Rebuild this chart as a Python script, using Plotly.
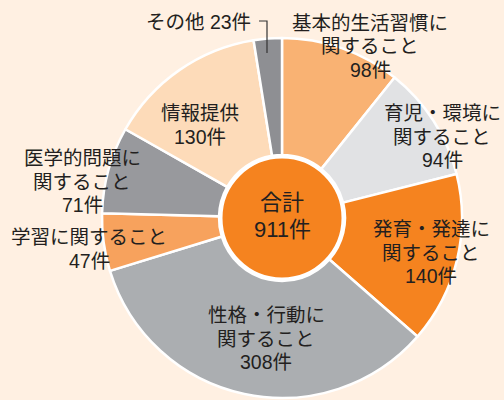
import plotly.graph_objects as go

# Consultation topics and counts, clockwise from 12 o'clock
categories = ["基本的生活習慣に関すること", "育児・環境に関すること", "発育・発達に関すること",
              "性格・行動に関すること", "学習に関すること", "医学的問題に関すること",
              "情報提供", "その他"]
counts = [98, 94, 140, 308, 47, 71, 130, 23]
label_lines = [["基本的生活習慣に", "関すること"], ["育児・環境に", "関すること"],
               ["発育・発達に", "関すること"], ["性格・行動に", "関すること"],
               ["学習に関すること"], ["医学的問題に", "関すること"],
               ["情報提供"], ["その他"]]
colors = ["#f9b273", "#e1e2e4", "#f5831f", "#abaeb1", "#f7a25d", "#98999d", "#fddbb9", "#8e8f93"]
total = sum(counts)

W, H = 504, 400
BG = "#fff0e2"
FONT = "Liberation Sans, Noto Sans CJK JP"
TXT = "#231f20"
LINE_H = 23.5

fig = go.Figure(go.Pie(
    labels=categories, values=counts, sort=False, direction="clockwise", rotation=0,
    hole=0.35, marker=dict(colors=colors, line=dict(color="white", width=2.5)),
    textinfo="none", hoverinfo="label+value", showlegend=False,
    domain=dict(x=[102 / W, 462 / W], y=[2 / H, 362 / H]),
))


def text_line(px, py, text, size=19.5, anchor="center"):
    fig.add_annotation(x=px / W, y=1 - py / H, xref="paper", yref="paper", text=text,
                       showarrow=False, xanchor=anchor, yanchor="middle",
                       font=dict(family=FONT, size=size, color=TXT))


# caption positions (pixel x centre, y of first line) for each slice
label_pos = [(370, 23), (442, 113), (431, 229), (266, 315), (89, 237), (82, 158), (200, 113), (253, 22)]
for i, (lines, n, (px, py)) in enumerate(zip(label_lines, counts, label_pos)):
    if i == len(counts) - 1:
        text_line(px, py, f"{lines[0]} {n}件", anchor="right")
        continue
    for k, s in enumerate(lines + [f"{n}件"]):
        text_line(px, py + k * LINE_H, s)

# leader line for the small "その他" slice
fig.add_shape(type="path", xref="paper", yref="paper",
              path=f"M {259 / W} {1 - 21 / H} L {267 / W} {1 - 21 / H} L {267 / W} {1 - 53 / H}",
              line=dict(color="#333333", width=1.2))

# centre disc with the total
cx, cy, r = 282, 218, 61
fig.add_shape(type="circle", xref="paper", yref="paper",
              x0=(cx - r) / W, x1=(cx + r) / W, y0=1 - (cy + r) / H, y1=1 - (cy - r) / H,
              fillcolor="#f5831f", line=dict(color="white", width=3))
text_line(cx, 203, "合計", size=22)
text_line(cx, 229, f"{total}件", size=22)

fig.update_layout(width=W, height=H, margin=dict(l=0, r=0, t=0, b=0),
                  paper_bgcolor=BG, plot_bgcolor=BG)
fig.write_html("out.html")
